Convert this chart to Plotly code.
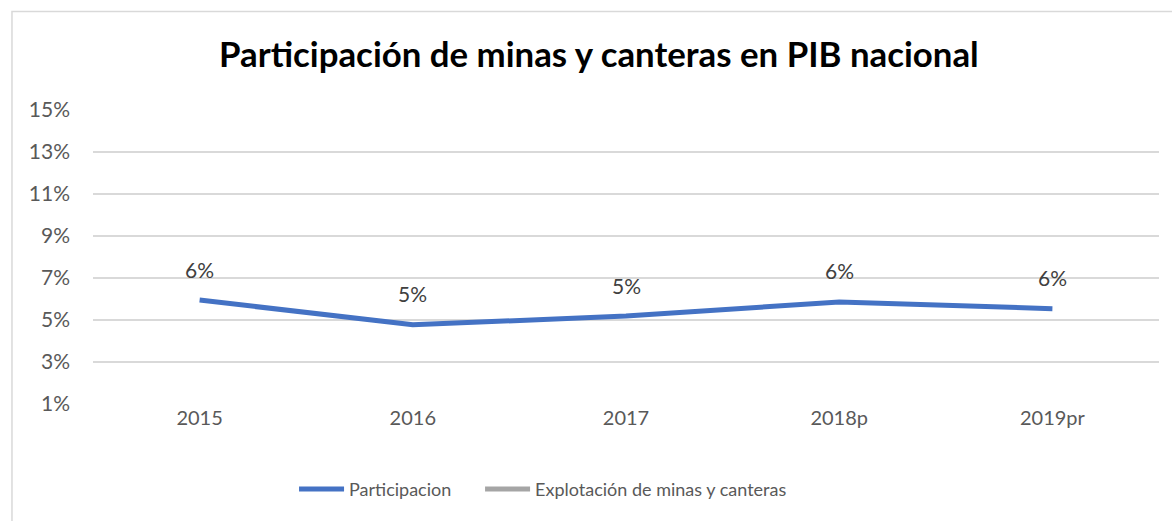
import plotly.graph_objects as go

years = ["2015", "2016", "2017", "2018p", "2019pr"]
participacion = [0.0595, 0.0477, 0.0519, 0.0586, 0.0554]
participacion_labels = ["6%", "5%", "5%", "6%", "6%"]
explotacion = [None, None, None, None, None]
y_ticks = [0.01, 0.03, 0.05, 0.07, 0.09, 0.11, 0.13, 0.15]
y_ticklabels = ["1%", "3%", "5%", "7%", "9%", "11%", "13%", "15%"]

FONT = "Lato"
fig = go.Figure()
fig.add_trace(go.Scatter(
    x=years, y=participacion, mode="lines", name="Participacion",
    line=dict(color="#4472C4", width=5), hoverinfo="skip", legend="legend"))
fig.add_trace(go.Scatter(
    x=years, y=explotacion, mode="lines", name="Explotación de minas y canteras",
    line=dict(color="#A5A5A5", width=5), hoverinfo="skip", legend="legend2"))

for i, (yv, lab) in enumerate(zip(participacion, participacion_labels)):
    fig.add_annotation(x=i, y=yv, text=lab, showarrow=False, yshift=31,
                       font=dict(family=FONT, size=21, color="#404040"))

leg_common = dict(orientation="h", xanchor="left", y=-0.29, yanchor="middle",
                  font=dict(family=FONT, size=18, color="#595959"),
                  itemwidth=45, bgcolor="rgba(0,0,0,0)")

fig.update_layout(
    width=1172, height=521,
    margin=dict(l=93, r=13, t=110, b=117),
    paper_bgcolor="white", plot_bgcolor="white",
    title=dict(text="<b>Participación de minas y canteras en PIB nacional</b>",
               x=0.511, xanchor="center", y=0.895, yanchor="middle",
               font=dict(family=FONT, size=34.8, color="black")),
    font=dict(family=FONT, size=20, color="#595959"),
    showlegend=True,
    legend=dict(x=0.1886, **leg_common),
    legend2=dict(x=0.3631, **leg_common),
    xaxis=dict(type="category", showgrid=False, zeroline=False, showline=False,
               ticks="", tickfont=dict(family=FONT, size=20, color="#595959"),
               range=[-0.5, 4.5]),
    yaxis=dict(range=[0.01, 0.15], tickvals=y_ticks, ticktext=y_ticklabels,
               showgrid=True, gridcolor="#D9D9D9", gridwidth=1.5, zeroline=False,
               showline=False, ticks="", ticklabelstandoff=22,
               tickfont=dict(family=FONT, size=21, color="#595959")),
    shapes=[dict(type="rect", xref="paper", yref="paper",
                 x0=-0.0760, x1=1.05, y0=-0.5, y1=1.335,
                 line=dict(color="#D9D9D9", width=1.5), fillcolor="rgba(0,0,0,0)",
                 layer="below")],
)
fig.write_html("out.html", config={"displayModeBar": False},
               post_script="document.body.style.margin='0';")
